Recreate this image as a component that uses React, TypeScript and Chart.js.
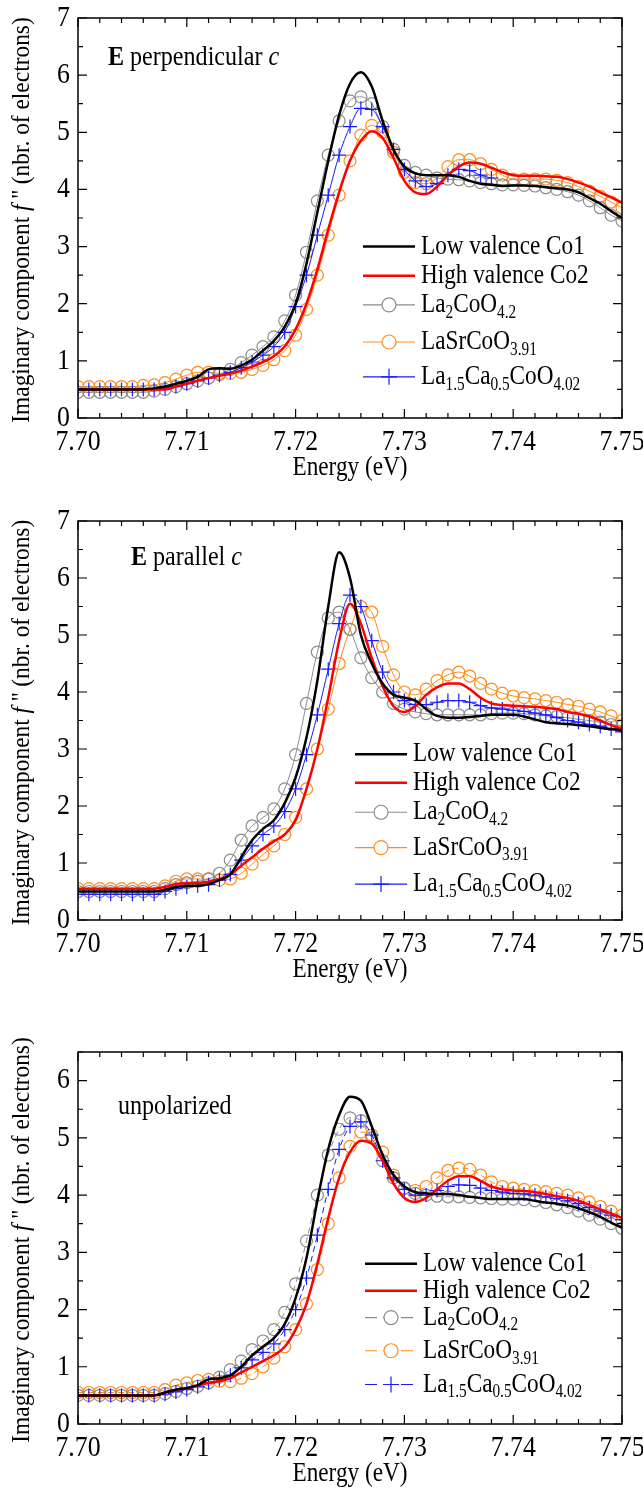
import React, { useEffect, useRef, useState } from 'react';
import { Chart, registerables } from 'chart.js';

Chart.register(...registerables);

// photon energy (eV), shared by all panels
const energy = [
  7.700, 7.701, 7.702, 7.703, 7.704, 7.705, 7.706, 7.707, 7.708, 7.709,
  7.710, 7.711, 7.712, 7.713, 7.714, 7.715, 7.716, 7.717, 7.718, 7.719,
  7.720, 7.721, 7.722, 7.723, 7.724, 7.725, 7.726, 7.727, 7.728, 7.729,
  7.730, 7.731, 7.732, 7.733, 7.734, 7.735, 7.736, 7.737, 7.738, 7.739,
  7.740, 7.741, 7.742, 7.743, 7.744, 7.745, 7.746, 7.747, 7.748, 7.749, 7.750,
];
const xTicks = [7.70, 7.71, 7.72, 7.73, 7.74, 7.75];

// E perpendicular c
const perpLow = [
  0.50, 0.50, 0.50, 0.50, 0.50, 0.50, 0.50, 0.52, 0.55, 0.60,
  0.65, 0.72, 0.85, 0.87, 0.86, 0.92, 1.02, 1.18, 1.35, 1.60,
  2.00, 2.70, 3.60, 4.50, 5.30, 5.85, 6.05, 5.80, 5.20, 4.70,
  4.40, 4.28, 4.25, 4.25, 4.25, 4.22, 4.15, 4.10, 4.08, 4.06,
  4.07, 4.07, 4.06, 4.04, 4.02, 4.00, 3.95, 3.85, 3.75, 3.62, 3.50,
];
const perpHigh = [
  0.50, 0.50, 0.50, 0.50, 0.50, 0.50, 0.50, 0.50, 0.50, 0.55,
  0.60, 0.65, 0.70, 0.74, 0.78, 0.83, 0.90, 0.98, 1.08, 1.25,
  1.55, 2.00, 2.60, 3.30, 3.95, 4.50, 4.85, 5.02, 4.90, 4.55,
  4.15, 3.95, 3.92, 4.05, 4.25, 4.40, 4.47, 4.45, 4.38, 4.30,
  4.25, 4.24, 4.24, 4.23, 4.22, 4.18, 4.12, 4.05, 3.95, 3.86, 3.77,
];
const perpLa2 = [
  0.45, 0.45, 0.45, 0.45, 0.45, 0.45, 0.45, 0.47, 0.50, 0.55,
  0.60, 0.65, 0.70, 0.76, 0.85, 0.97, 1.10, 1.25, 1.42, 1.70,
  2.15, 2.90, 3.80, 4.60, 5.20, 5.55, 5.62, 5.50, 5.10, 4.70,
  4.42, 4.30, 4.25, 4.20, 4.18, 4.17, 4.15, 4.12, 4.10, 4.08,
  4.08, 4.07, 4.06, 4.03, 4.00, 3.96, 3.90, 3.80, 3.68, 3.55, 3.45,
];
const perpLaSr = [
  0.55, 0.55, 0.55, 0.55, 0.55, 0.55, 0.57, 0.58, 0.62, 0.68,
  0.75, 0.80, 0.80, 0.78, 0.78, 0.80, 0.85, 0.92, 1.02, 1.18,
  1.45, 1.90, 2.50, 3.20, 3.90, 4.50, 4.95, 5.12, 5.00, 4.65,
  4.30, 4.12, 4.10, 4.20, 4.40, 4.52, 4.52, 4.45, 4.35, 4.25,
  4.18, 4.18, 4.18, 4.18, 4.16, 4.12, 4.05, 3.97, 3.88, 3.78, 3.68,
];
const perpLaCa = [
  0.50, 0.50, 0.50, 0.50, 0.50, 0.50, 0.50, 0.50, 0.52, 0.55,
  0.60, 0.65, 0.70, 0.75, 0.80, 0.88, 0.98, 1.10, 1.25, 1.50,
  1.95, 2.50, 3.20, 3.90, 4.60, 5.10, 5.42, 5.40, 5.10, 4.70,
  4.35, 4.15, 4.05, 4.10, 4.25, 4.35, 4.33, 4.25, 4.20, null,
  null, null, null, null, null, null, null, null, null, null, null,
];

// E parallel c
const paraLow = [
  0.50, 0.50, 0.50, 0.50, 0.50, 0.50, 0.50, 0.50, 0.53, 0.58,
  0.60, 0.60, 0.63, 0.70, 0.80, 1.10, 1.40, 1.60, 1.75, 2.05,
  2.50, 3.20, 4.20, 5.50, 6.45, 6.00, 5.00, 4.50, 4.15, 3.95,
  3.90, 3.85, 3.70, 3.58, 3.55, 3.55, 3.56, 3.58, 3.60, 3.60,
  3.60, 3.57, 3.52, 3.47, 3.45, 3.44, 3.42, 3.40, 3.37, 3.35, 3.33,
];
const paraHigh = [
  0.55, 0.55, 0.55, 0.55, 0.55, 0.55, 0.55, 0.55, 0.58, 0.63,
  0.65, 0.65, 0.67, 0.72, 0.80, 0.95, 1.10, 1.25, 1.38, 1.50,
  1.75, 2.30, 3.00, 3.90, 4.90, 5.55, 5.20, 4.60, 4.10, 3.75,
  3.65, 3.75, 3.95, 4.08, 4.15, 4.15, 4.05, 3.90, 3.80, 3.77,
  3.76, 3.75, 3.74, 3.72, 3.70, 3.65, 3.62, 3.57, 3.50, 3.42, 3.35,
];
const paraLa2 = [
  0.50, 0.50, 0.50, 0.50, 0.50, 0.50, 0.50, 0.50, 0.55, 0.62,
  0.65, 0.68, 0.72, 0.82, 1.05, 1.40, 1.65, 1.80, 1.95, 2.30,
  2.90, 3.80, 4.70, 5.30, 5.40, 5.10, 4.60, 4.25, 4.00, 3.80,
  3.70, 3.65, 3.62, 3.60, 3.60, 3.60, 3.60, 3.60, 3.62, 3.63,
  3.63, 3.62, 3.60, 3.58, 3.57, 3.55, 3.52, 3.50, 3.47, 3.43, 3.40,
];
const paraLaSr = [
  0.55, 0.55, 0.55, 0.55, 0.55, 0.55, 0.55, 0.55, 0.60, 0.68,
  0.72, 0.72, 0.72, 0.70, 0.72, 0.82, 0.98, 1.15, 1.30, 1.50,
  1.80, 2.30, 3.00, 3.70, 4.50, 5.10, 5.50, 5.40, 4.80, 4.30,
  4.00, 3.95, 4.05, 4.20, 4.30, 4.35, 4.28, 4.15, 4.05, 3.98,
  3.93, 3.90, 3.88, 3.85, 3.82, 3.78, 3.75, 3.70, 3.65, 3.58, 3.50,
];
const paraLaCa = [
  0.45, 0.45, 0.45, 0.45, 0.45, 0.45, 0.45, 0.45, 0.50, 0.55,
  0.58, 0.60, 0.62, 0.70, 0.80, 1.05, 1.30, 1.50, 1.65, 1.90,
  2.30, 2.90, 3.60, 4.40, 5.20, 5.70, 5.50, 4.90, 4.35, 4.00,
  3.85, 3.78, 3.78, 3.82, 3.85, 3.85, 3.82, 3.76, 3.72, 3.70,
  3.68, 3.66, 3.63, 3.60, 3.55, 3.50, 3.47, 3.43, 3.40, 3.35, 3.30,
];

// unpolarized
const unpLow = [
  0.50, 0.50, 0.50, 0.50, 0.50, 0.50, 0.50, 0.50, 0.55, 0.60,
  0.63, 0.68, 0.78, 0.80, 0.85, 1.00, 1.20, 1.35, 1.50, 1.75,
  2.20, 2.90, 3.90, 4.80, 5.40, 5.72, 5.65, 5.20, 4.70, 4.35,
  4.15, 4.05, 4.03, 4.02, 4.02, 4.00, 3.97, 3.95, 3.93, 3.93,
  3.93, 3.93, 3.90, 3.87, 3.85, 3.82, 3.77, 3.70, 3.62, 3.52, 3.43,
];
const unpHigh = [
  0.50, 0.50, 0.50, 0.50, 0.50, 0.50, 0.50, 0.50, 0.55, 0.60,
  0.62, 0.67, 0.72, 0.75, 0.80, 0.90, 1.00, 1.10, 1.20, 1.35,
  1.65, 2.10, 2.80, 3.60, 4.30, 4.75, 4.95, 4.90, 4.60, 4.20,
  3.95, 3.88, 3.95, 4.10, 4.25, 4.33, 4.33, 4.25, 4.15, 4.10,
  4.08, 4.07, 4.05, 4.02, 3.98, 3.95, 3.90, 3.83, 3.75, 3.68, 3.60,
];
const unpLa2 = [
  0.50, 0.50, 0.50, 0.50, 0.50, 0.50, 0.50, 0.50, 0.53, 0.57,
  0.62, 0.66, 0.72, 0.82, 0.95, 1.10, 1.30, 1.45, 1.65, 1.95,
  2.45, 3.20, 4.00, 4.70, 5.15, 5.35, 5.30, 5.00, 4.60, 4.30,
  4.12, 4.03, 4.00, 3.98, 3.97, 3.97, 3.96, 3.95, 3.94, 3.93,
  3.93, 3.92, 3.90, 3.87, 3.83, 3.78, 3.72, 3.65, 3.58, 3.50, 3.42,
];
const unpLaSr = [
  0.55, 0.55, 0.55, 0.55, 0.55, 0.55, 0.55, 0.55, 0.60, 0.68,
  0.72, 0.76, 0.78, 0.75, 0.74, 0.80, 0.88, 1.00, 1.15, 1.35,
  1.65, 2.10, 2.70, 3.50, 4.30, 4.85, 5.10, 5.05, 4.75, 4.35,
  4.12, 4.08, 4.15, 4.30, 4.43, 4.47, 4.45, 4.35, 4.23, 4.15,
  4.12, 4.10, 4.08, 4.06, 4.03, 4.00, 3.95, 3.88, 3.80, 3.72, 3.65,
];
const unpLaCa = [
  0.50, 0.50, 0.50, 0.50, 0.50, 0.50, 0.50, 0.50, 0.52, 0.56,
  0.60, 0.65, 0.72, 0.78, 0.85, 0.98, 1.12, 1.25, 1.40, 1.65,
  2.00, 2.55, 3.30, 4.10, 4.80, 5.20, 5.28, 5.05, 4.60, 4.30,
  4.10, 4.00, 4.00, 4.08, 4.15, 4.18, 4.17, 4.12, 4.08, 4.05,
  4.03, 4.02, 4.00, 3.97, 3.94, 3.90, 3.85, 3.78, 3.72, 3.65, 3.57,
];

// legend row heights (in data units) per panel
const legendRowsPerp = [3.0, 2.49, 1.98, 1.33, 0.72];
const legendRowsPara = [2.91, 2.41, 1.89, 1.27, 0.63];
const legendRowsUnp = [2.8, 2.33, 1.86, 1.28, 0.69];

type Seg = { t: string; sub?: boolean; bold?: boolean; italic?: boolean };

const legendLabels: Seg[][] = [
  [{ t: 'Low valence Co1' }],
  [{ t: 'High valence Co2' }],
  [{ t: 'La' }, { t: '2', sub: true }, { t: 'CoO' }, { t: '4.2', sub: true }],
  [{ t: 'LaSrCoO' }, { t: '3.91', sub: true }],
  [{ t: 'La' }, { t: '1.5', sub: true }, { t: 'Ca' }, { t: '0.5', sub: true }, { t: 'CoO' }, { t: '4.02', sub: true }],
];

const FONT = '"Liberation Serif", "Times New Roman", Times, serif';
const GRAY = '#8c8c8c';
const ORANGE = '#ff8c1a';
const BLUE = '#1a1aff';
const SQUEEZE = 0.86; // the original typesetting is horizontally condensed

interface PanelProps {
  height: number;
  top: number;
  bottom: number;
  yMax: number;
  low: number[];
  high: number[];
  la2: number[];
  lasr: number[];
  laca: (number | null)[];
  rows: number[];
  label: Seg[];
  labelX: number;
  labelY: number;
  dashed: boolean;
  legendX: number;
}

function segWidth(ctx: CanvasRenderingContext2D, segs: Seg[], size: number) {
  let w = 0;
  segs.forEach((s) => {
    const sz = s.sub ? size * 0.66 : size;
    ctx.font = `${s.italic ? 'italic ' : ''}${s.bold ? 'bold ' : ''}${sz}px ${FONT}`;
    w += ctx.measureText(s.t).width;
  });
  return w;
}

// draws left-aligned text runs starting at x, squeezed horizontally by k
function drawSegs(ctx: CanvasRenderingContext2D, segs: Seg[], x: number, y: number, size: number, k = SQUEEZE) {
  ctx.save();
  ctx.translate(x, y);
  ctx.scale(k, 1);
  ctx.textAlign = 'left';
  let cx = 0;
  segs.forEach((s) => {
    const sz = s.sub ? size * 0.66 : size;
    ctx.font = `${s.italic ? 'italic ' : ''}${s.bold ? 'bold ' : ''}${sz}px ${FONT}`;
    ctx.fillText(s.t, cx, s.sub ? size * 0.3 : 0);
    cx += ctx.measureText(s.t).width;
  });
  ctx.restore();
}

const Panel: React.FC<PanelProps> = (p) => {
  const ref = useRef<HTMLCanvasElement | null>(null);

  useEffect(() => {
    if (!ref.current) return;
    const pts = (arr: (number | null)[]) => energy.map((e, i) => ({ x: e, y: arr[i] }));

    const frame = {
      id: 'frame',
      afterDraw(chart: Chart) {
        const { ctx, chartArea: a } = chart;
        const xs = chart.scales.x;
        const ys = chart.scales.y;
        ctx.save();
        ctx.strokeStyle = '#000';
        ctx.lineWidth = 1.5;
        ctx.strokeRect(a.left, a.top, a.right - a.left, a.bottom - a.top);
        ctx.lineWidth = 1.2;
        ctx.beginPath();
        for (let k = 0; k <= 25; k++) {
          const px = xs.getPixelForValue(7.7 + k * 0.002);
          const len = k % 5 === 0 ? 9 : 5;
          ctx.moveTo(px, a.bottom); ctx.lineTo(px, a.bottom - len);
          ctx.moveTo(px, a.top); ctx.lineTo(px, a.top + len);
        }
        for (let k = 0; k <= p.yMax * 2; k++) {
          const py = ys.getPixelForValue(k * 0.5);
          const len = k % 2 === 0 ? 9 : 5;
          ctx.moveTo(a.left, py); ctx.lineTo(a.left + len, py);
          ctx.moveTo(a.right, py); ctx.lineTo(a.right - len, py);
        }
        ctx.stroke();

        ctx.fillStyle = '#000';
        ctx.textBaseline = 'middle';

        // tick labels
        xTicks.forEach((v) => {
          const segs = [{ t: v.toFixed(2) }];
          const w = segWidth(ctx, segs, 30) * SQUEEZE;
          drawSegs(ctx, segs, xs.getPixelForValue(v) - w / 2, a.bottom + 24, 30);
        });
        for (let v = 0; v <= Math.floor(p.yMax); v++) {
          const segs = [{ t: String(v) }];
          const w = segWidth(ctx, segs, 30) * SQUEEZE;
          drawSegs(ctx, segs, a.left - 8 - w, ys.getPixelForValue(v), 30);
        }

        // axis titles
        const xt = [{ t: 'Energy (eV)' }];
        const xw = segWidth(ctx, xt, 27) * SQUEEZE;
        drawSegs(ctx, xt, (a.left + a.right) / 2 - xw / 2, a.bottom + 50, 27);
        ctx.save();
        ctx.translate(22, (a.top + a.bottom) / 2 + 2);
        ctx.rotate(-Math.PI / 2);
        const ySegs: Seg[] = [{ t: 'Imaginary component ' }, { t: 'f', italic: true }, { t: " '' (nbr. of electrons)" }];
        const yw = segWidth(ctx, ySegs, 26) * 0.9;
        drawSegs(ctx, ySegs, -yw / 2, 0, 26, 0.9);
        ctx.restore();

        // panel label
        drawSegs(ctx, p.label, p.labelX, ys.getPixelForValue(p.labelY), 28);

        // legend
        const styles = [
          { c: '#000', w: 2.5, m: null },
          { c: '#ff0000', w: 2.5, m: null },
          { c: GRAY, w: 1.2, m: 'circle' },
          { c: ORANGE, w: 1.2, m: 'circle' },
          { c: BLUE, w: 1.2, m: 'cross' },
        ];
        styles.forEach((s, i) => {
          const py = ys.getPixelForValue(p.rows[i]);
          const x0 = p.legendX;
          ctx.strokeStyle = s.c;
          ctx.lineWidth = s.w;
          if (p.dashed && i >= 2) ctx.setLineDash([12, 6]);
          ctx.beginPath();
          ctx.moveTo(x0, py); ctx.lineTo(x0 + 52, py);
          ctx.stroke();
          ctx.setLineDash([]);
          const cx = x0 + 26;
          if (s.m === 'circle') {
            ctx.fillStyle = '#fff';
            ctx.beginPath();
            ctx.arc(cx, py, 7, 0, Math.PI * 2);
            ctx.fill();
            ctx.stroke();
          } else if (s.m === 'cross') {
            ctx.beginPath();
            ctx.moveTo(cx - 8, py); ctx.lineTo(cx + 8, py);
            ctx.moveTo(cx, py - 8); ctx.lineTo(cx, py + 8);
            ctx.stroke();
          }
          ctx.fillStyle = '#000';
          drawSegs(ctx, legendLabels[i], x0 + 58, py, 27);
        });
        ctx.restore();
      },
    };

    const marker = (color: string, style: string) => ({
      borderColor: color,
      backgroundColor: 'rgba(0,0,0,0)',
      borderWidth: 1,
      pointStyle: style,
      pointRadius: style === 'cross' ? 7 : 6,
      pointBorderWidth: 1.2,
      pointBorderColor: color,
      borderDash: p.dashed ? [6, 4] : [],
    });

    const chart = new Chart(ref.current, {
      type: 'line',
      data: {
        datasets: [
          { label: 'Low valence Co1', data: pts(p.low), borderColor: '#000', borderWidth: 2.5, pointRadius: 0 },
          { label: 'High valence Co2', data: pts(p.high), borderColor: '#ff0000', borderWidth: 2.5, pointRadius: 0 },
          { label: 'La1.5Ca0.5CoO4.02', data: pts(p.laca), ...marker(BLUE, 'cross') },
          { label: 'La2CoO4.2', data: pts(p.la2), ...marker(GRAY, 'circle') },
          { label: 'LaSrCoO3.91', data: pts(p.lasr), ...marker(ORANGE, 'circle') },
        ] as any,
      },
      options: {
        responsive: false,
        animation: false,
        devicePixelRatio: 1,
        layout: { padding: { top: p.top, right: 21, left: 0, bottom: 0 } },
        elements: { line: { tension: 0.4, cubicInterpolationMode: 'monotone' } },
        plugins: { legend: { display: false }, tooltip: { enabled: false } },
        scales: {
          x: {
            type: 'linear',
            min: 7.7,
            max: 7.75,
            grid: { display: false, drawTicks: false },
            border: { display: false },
            ticks: { display: false },
            afterFit: (s: any) => { s.height = p.height - p.bottom; },
          },
          y: {
            min: 0,
            max: p.yMax,
            grid: { display: false, drawTicks: false },
            border: { display: false },
            ticks: { display: false },
            afterFit: (s: any) => { s.width = 78; },
          },
        },
      },
      plugins: [frame],
    });

    return () => chart.destroy();
  }, []);

  return <canvas ref={ref} width={643} height={p.height} style={{ display: 'block' }} />;
};

export default function App() {
  const [ready, setReady] = useState(false);
  useEffect(() => {
    document.body.style.margin = '0';
    document.body.style.background = '#fff';
    const fonts = (document as any).fonts;
    if (fonts && fonts.load) {
      Promise.all([
        fonts.load('20px "Liberation Serif"'),
        fonts.load('italic 20px "Liberation Serif"'),
        fonts.load('bold 20px "Liberation Serif"'),
      ]).then(() => setReady(true), () => setReady(true));
    } else setReady(true);
  }, []);
  return (
    <div style={{ width: 643, background: '#fff', fontFamily: FONT }}>
      <span style={{ position: 'absolute', visibility: 'hidden', fontFamily: FONT }}>
        a<i>a</i><b>a</b>
      </span>
      {ready && (
        <>
          <Panel height={500} top={18} bottom={418} yMax={7}
            low={perpLow} high={perpHigh} la2={perpLa2} lasr={perpLaSr} laca={perpLaCa}
            rows={legendRowsPerp} legendX={363} dashed={false}
            label={[{ t: 'E', bold: true }, { t: ' perpendicular ' }, { t: 'c', italic: true }]}
            labelX={108} labelY={6.3} />
          <Panel height={500} top={21} bottom={420} yMax={7}
            low={paraLow} high={paraHigh} la2={paraLa2} lasr={paraLaSr} laca={paraLaCa}
            rows={legendRowsPara} legendX={355} dashed={false}
            label={[{ t: 'E', bold: true }, { t: ' parallel ' }, { t: 'c', italic: true }]}
            labelX={131} labelY={6.36} />
          <Panel height={499} top={52} bottom={424} yMax={6.5}
            low={unpLow} high={unpHigh} la2={unpLa2} lasr={unpLaSr} laca={unpLaCa}
            rows={legendRowsUnp} legendX={365} dashed={true}
            label={[{ t: 'unpolarized' }]}
            labelX={118} labelY={5.55} />
        </>
      )}
    </div>
  );
}
